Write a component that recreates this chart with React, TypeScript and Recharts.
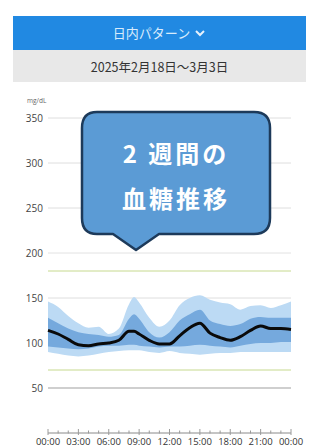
import React from 'react';
import { ComposedChart, Area, Line, XAxis, YAxis, CartesianGrid, ReferenceLine } from 'recharts';

const hours = [0, 1, 2, 3, 4, 5, 6, 7, 8, 8.5, 9, 10, 11, 12, 13, 14, 15, 16, 17, 18, 19, 20, 21, 22, 23, 24];
const p95 = [146, 140, 130, 122, 117, 118, 110, 116, 143, 151, 145, 128, 118, 125, 142, 150, 153, 148, 145, 143, 137, 141, 142, 139, 142, 146];
const p75 = [128, 122, 116, 112, 110, 109, 107, 109, 127, 132, 127, 112, 106, 112, 125, 132, 137, 125, 121, 119, 121, 127, 129, 128, 128, 128];
const p50 = [114, 110, 104, 98, 97, 99, 100, 103, 113, 113, 110, 103, 99, 99, 108, 117, 122, 111, 106, 103, 107, 114, 119, 116, 116, 115];
const p25 = [96, 95, 94, 93, 94, 96, 97, 97, 98, 98, 97, 96, 95, 96, 96, 97, 98, 97, 96, 95, 97, 99, 100, 100, 101, 101];
const p5 = [90, 88, 86, 85, 86, 88, 90, 91, 92, 92, 92, 90, 89, 91, 89, 88, 87, 88, 89, 89, 90, 90, 90, 90, 90, 90];
const hourTicks = [0, 1, 2, 3, 4, 5, 6, 7, 8, 9, 10, 11, 12, 13, 14, 15, 16, 17, 18, 19, 20, 21, 22, 23, 24];
const yTicks = [50, 100, 150, 200, 250, 300, 350];
const xTickLabels = ['00:00', '03:00', '06:00', '09:00', '12:00', '15:00', '18:00', '21:00', '00:00'];
const headerTitle = '日内パターン';
const dateRange = '2025年2月18日〜3月3日';
const calloutLines = ['2 週間の', '血糖推移'];
const unitLabel = 'mg/dL';

const data = hours.map((h, i) => ({
  h,
  outer: [p5[i], p95[i]],
  inner: [p25[i], p75[i]],
  median: p50[i],
}));

const XTick = (props: any) => {
  const { x, y, payload } = props;
  const v = payload.value as number;
  const major = v % 3 === 0;
  return (
    <g>
      <line x1={x} x2={x} y1={major ? y - 4 : y - 2.5} y2={major ? y + 2 : y + 0.5} stroke="#9a9a9a" strokeWidth={1} />
      {major && (
        <text x={x} y={y + 11.5} textAnchor="middle" fontSize={9.5} fill="#333" fontFamily="'Open Sans', 'DejaVu Sans', sans-serif">
          {xTickLabels[v / 3]}
        </text>
      )}
    </g>
  );
};

const YTick = (props: any) => {
  const { x, y, payload } = props;
  return (
    <text x={x} y={y} dy={3.5} textAnchor="end" fontSize={10} fill="#444" fontFamily="'Open Sans', 'DejaVu Sans', sans-serif">
      {payload.value}
    </text>
  );
};

export default function App() {
  return (
    <div style={{ position: 'absolute', left: 0, top: 0, width: 312, height: 446, overflow: 'hidden', background: '#fff', fontFamily: "'Noto Sans CJK JP', 'Noto Sans', sans-serif" }}>
      <div style={{ position: 'absolute', left: 13, top: 16, width: 293, height: 34, background: '#2189e2', color: '#d8ebfc', fontSize: 13, display: 'flex', alignItems: 'center', justifyContent: 'center' }}>
        <span style={{ lineHeight: '34px' }}>{headerTitle}</span>
        <svg width={12} height={10} style={{ marginLeft: 4 }}>
          <polyline points="2,3 6,7 10,3" fill="none" stroke="#e6f1fc" strokeWidth={2} />
        </svg>
      </div>
      <div style={{ position: 'absolute', left: 13, top: 50, width: 293, height: 32, background: '#e8e8e8', color: '#333', fontSize: 12.5, textAlign: 'center', lineHeight: '33px' }}>
        {dateRange}
      </div>
      <div style={{ position: 'absolute', left: 0, top: 0 }}>
        <ComposedChart width={312} height={446} data={data} margin={{ top: 118, right: 21, left: 0, bottom: 0 }}>
          <CartesianGrid vertical={false} stroke="#dedede" />
          <XAxis dataKey="h" type="number" domain={[0, 24]} ticks={hourTicks} interval={0} height={13} tickSize={0} tickMargin={0} tickLine={false} axisLine={{ stroke: '#9a9a9a' }} tick={<XTick />} />
          <YAxis domain={[0, 350]} ticks={yTicks} width={48} tickSize={0} tickMargin={5} tickLine={false} axisLine={false} tick={<YTick />} interval={0} />
          <ReferenceLine y={50} stroke="#cfcfcf" strokeWidth={2} />
          <ReferenceLine y={200} stroke="#f2f2f2" strokeWidth={1} />
          <ReferenceLine y={180} stroke="#c6d98e" strokeWidth={1} />
          <ReferenceLine y={70} stroke="#c6d98e" strokeWidth={1} />
          <Area dataKey="outer" type="monotone" stroke="none" fill="#bcdaf4" fillOpacity={1} isAnimationActive={false} />
          <Area dataKey="inner" type="monotone" stroke="none" fill="#75a9dd" fillOpacity={1} isAnimationActive={false} />
          <Line dataKey="median" type="monotone" stroke="#0a0a0a" strokeWidth={3} dot={false} isAnimationActive={false} />
        </ComposedChart>
      </div>
      <svg width={312} height={446} style={{ position: 'absolute', left: 0, top: 0, pointerEvents: 'none' }}>
        <text x={27} y={103} fontSize={6.5} fill="#666" fontFamily="'Open Sans', sans-serif">{unitLabel}</text>
        <path
          d="M97,112 H254 Q270,112 270,128 V218 Q270,234 254,234 H159 L136,250 L113,234 H97 Q82,234 82,218 V128 Q82,112 97,112 Z"
          fill="#5b9bd5"
          stroke="#1d3a5a"
          strokeWidth={2.5}
          strokeLinejoin="round"
        />
        <text x={176} y={163} textAnchor="middle" fontSize={24} fontWeight={700} fill="#fff" letterSpacing={3} fontFamily="'Noto Sans CJK JP', sans-serif">{calloutLines[0]}</text>
        <text x={176} y={208} textAnchor="middle" fontSize={24} fontWeight={700} fill="#fff" letterSpacing={3} fontFamily="'Noto Sans CJK JP', sans-serif">{calloutLines[1]}</text>
      </svg>
    </div>
  );
}
